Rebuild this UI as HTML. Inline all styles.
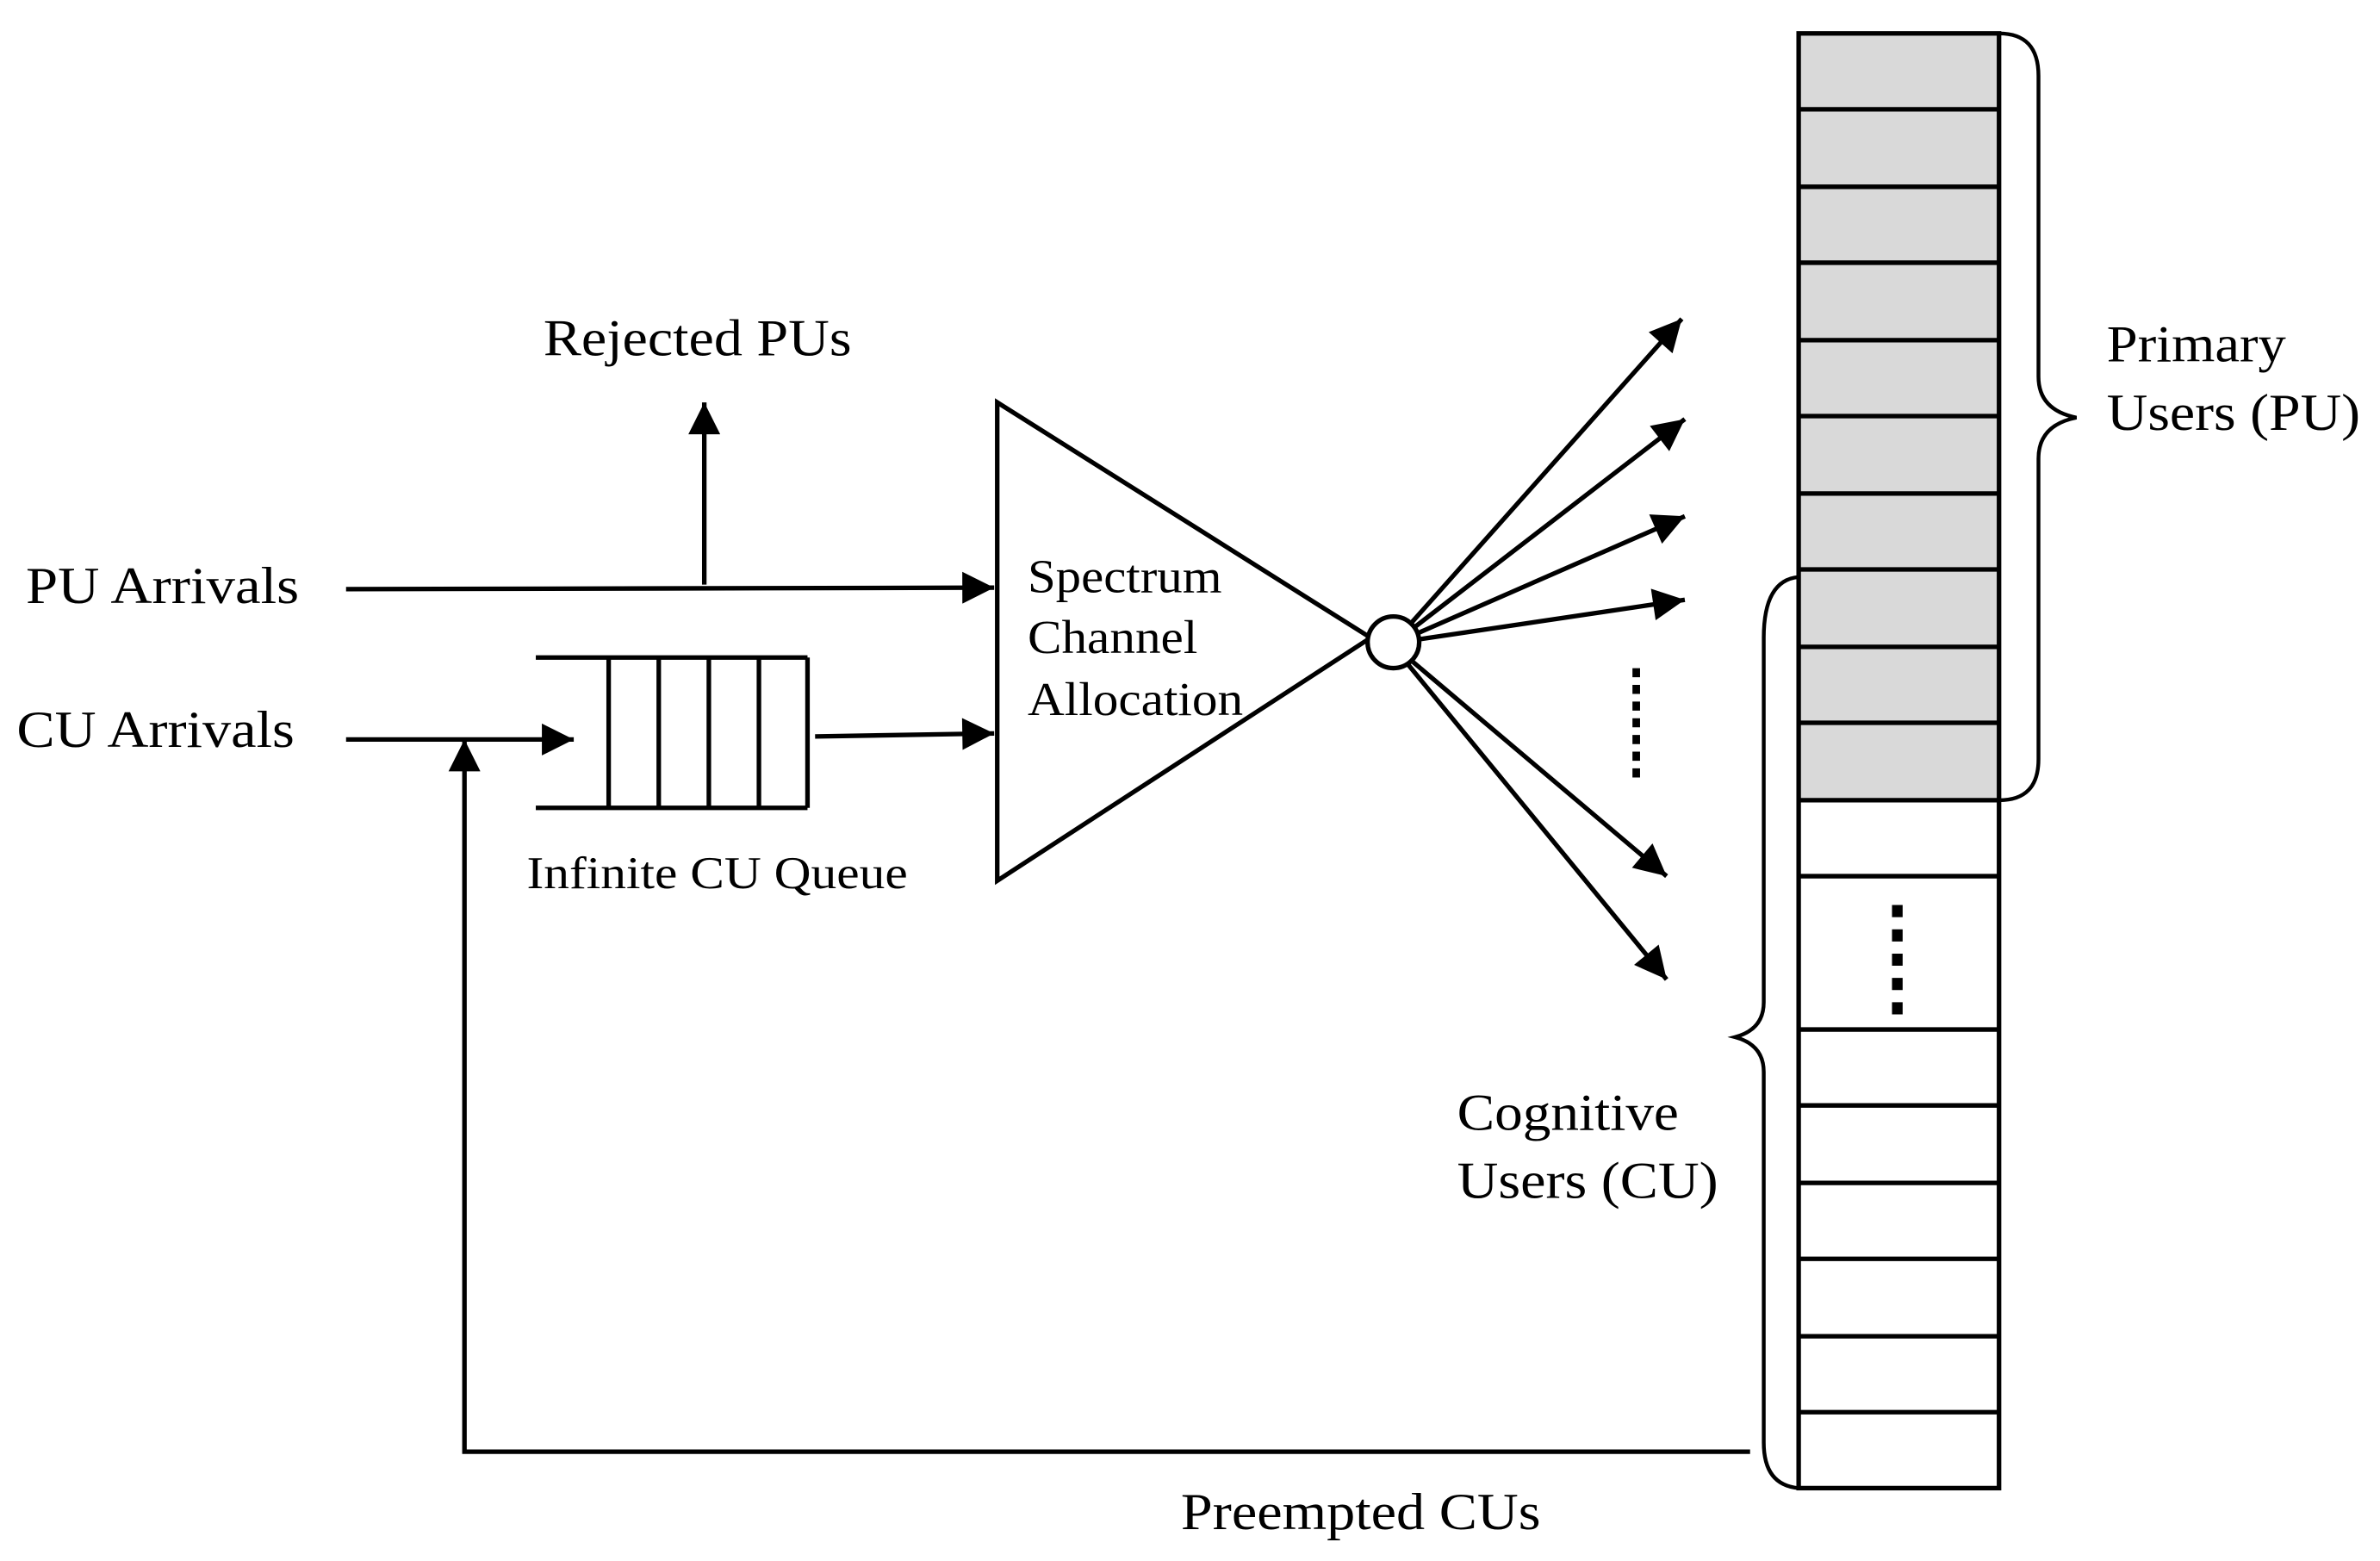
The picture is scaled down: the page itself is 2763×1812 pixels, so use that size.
<!DOCTYPE html>
<html><head><style>html,body{margin:0;padding:0;background:#fff}svg{display:block}</style></head>
<body>
<svg width="2763" height="1812" viewBox="0 0 1568 1028" preserveAspectRatio="none" xmlns="http://www.w3.org/2000/svg">
<defs>
<marker id="a" viewBox="0 0 10 10" refX="10" refY="5" markerWidth="9" markerHeight="7" orient="auto" markerUnits="strokeWidth">
<path d="M0,0 L10,5 L0,10 z" fill="#000"/></marker>
</defs>
<g stroke="#000" stroke-width="3" fill="none">
<rect x="1185" y="22" width="132" height="505" fill="#d9d9d9" stroke="none"/>
<rect x="1185" y="22" width="132" height="958"/>
<path d="M1185 72H1317M1185 123H1317M1185 173H1317M1185 224H1317M1185 274H1317M1185 325H1317M1185 375H1317M1185 426H1317M1185 476H1317M1185 527H1317M1185 577H1317M1185 678H1317M1185 728H1317M1185 779H1317M1185 829H1317M1185 880H1317M1185 930H1317"/>
<path d="M1317 22 Q1343 22 1343 50 L1343 248 Q1343 270 1368 275 Q1343 280 1343 302 L1343 500 Q1343 527 1317 527" stroke-width="2.5"/>
<path d="M1185 380 Q1162 382 1162 420 L1162 660 Q1162 678 1143 683 Q1162 688 1162 706 L1162 950 Q1162 978 1185 980" stroke-width="2.5"/>
<path d="M657 265 L657 580 L903 420 Z" />
<circle cx="918" cy="423" r="17" fill="#fff"/>
<g marker-end="url(#a)">
<line x1="930" y1="410" x2="1108" y2="210"/>
<line x1="932" y1="413" x2="1110" y2="276"/>
<line x1="934" y1="417" x2="1110" y2="340"/>
<line x1="935" y1="421" x2="1110" y2="395"/>
<line x1="931" y1="436" x2="1098" y2="577"/>
<line x1="928" y1="438" x2="1098" y2="645"/>
<line x1="228" y1="388" x2="655" y2="387"/>
<line x1="464" y1="385" x2="464" y2="265"/>
<line x1="228" y1="487" x2="378" y2="487"/>
<line x1="537" y1="485" x2="655" y2="483"/>
<path d="M1153 956 L306 956 L306 487"/>
</g>
<path d="M353 433H532M353 532H532M401 433V532M434 433V532M467 433V532M500 433V532M532 433V532"/>
<line x1="1078" y1="440" x2="1078" y2="515" stroke-width="5" stroke-dasharray="6,5"/>
<line x1="1250" y1="596" x2="1250" y2="670" stroke-width="7" stroke-dasharray="8,8"/>
</g>
<g font-family="'Liberation Serif', serif" font-size="34" fill="#000">
<text x="17" y="397" textLength="180" lengthAdjust="spacingAndGlyphs">PU Arrivals</text>
<text x="11" y="492" textLength="183" lengthAdjust="spacingAndGlyphs">CU Arrivals</text>
<text x="358" y="234" textLength="203" lengthAdjust="spacingAndGlyphs">Rejected PUs</text>
<text x="677" y="390" font-size="31" textLength="128" lengthAdjust="spacingAndGlyphs">Spectrum</text>
<text x="677" y="430" font-size="31" textLength="112" lengthAdjust="spacingAndGlyphs">Channel</text>
<text x="677" y="471" font-size="31" textLength="142" lengthAdjust="spacingAndGlyphs">Allocation</text>
<text x="347" y="585" font-size="30" textLength="251" lengthAdjust="spacingAndGlyphs">Infinite CU Queue</text>
<text x="960" y="744" textLength="146" lengthAdjust="spacingAndGlyphs">Cognitive</text>
<text x="960" y="789" textLength="172" lengthAdjust="spacingAndGlyphs">Users (CU)</text>
<text x="1388" y="238" textLength="118" lengthAdjust="spacingAndGlyphs">Primary</text>
<text x="1388" y="283" textLength="167" lengthAdjust="spacingAndGlyphs">Users (PU)</text>
<text x="778" y="1007" textLength="237" lengthAdjust="spacingAndGlyphs">Preempted CUs</text>
</g>
</svg>
</body></html>
